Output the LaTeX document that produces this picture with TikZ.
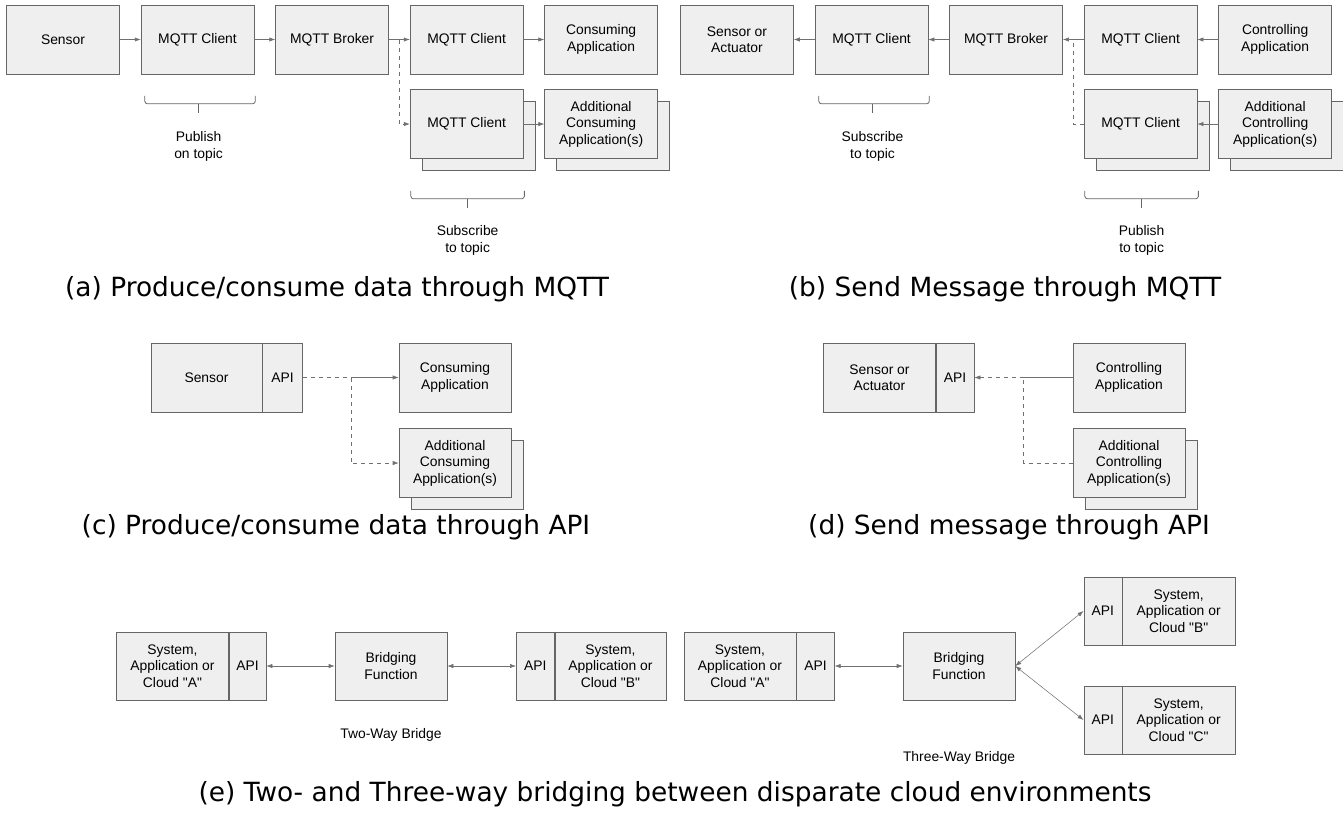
\documentclass[tikz,border=0pt]{standalone}
\usepackage{fontspec}
\newfontfamily\arialfont{Liberation Sans}
\newfontfamily\capfont{DejaVu Sans}
\usepackage{tikz}
\usetikzlibrary{arrows.meta,positioning,shadows,calc}
\definecolor{boxfill}{HTML}{EFEFEF}
\definecolor{boxline}{HTML}{666666}
\definecolor{wiregray}{HTML}{707070}

\begin{document}
\begin{tikzpicture}[x=0.75pt,y=-0.75pt,
    node distance=11.25pt and 15.75pt,
    box/.style={draw=boxline, fill=boxfill, minimum width=84.75pt, minimum height=51.75pt, align=center, inner sep=1pt, font=\arialfont\fontsize{10.4}{12.3}\selectfont},
    ebox/.style={box, minimum height=51pt},
    stack/.style={copy shadow={shadow xshift=9pt, shadow yshift=-9pt}},
    note/.style={align=center, font=\arialfont\fontsize{10.4}{12.3}\selectfont},
    subcap/.style={font=\capfont\fontsize{19.8}{24}\selectfont},
    wire/.style={draw=wiregray, -{Latex[length=4.5pt,width=3.2pt]}},
    dline/.style={draw=wiregray, dashed},
    dwire/.style={wire, dashed},
    bi/.style={draw=wiregray, {Latex[length=4.5pt,width=3.2pt]}-{Latex[length=4.5pt,width=3.2pt]}},
    bracket/.style={draw=boxline, semithick}]
  \useasboundingbox (0,0) rectangle (1343,826);

  % (a)
  \node[box] (sensorA) at (63,39.5) {Sensor};
  \node[box, right=of sensorA] (clientA) {MQTT Client};
  \node[box, right=of clientA] (brokerA) {MQTT Broker};
  \node[box, right=of brokerA] (subA) {MQTT Client};
  \node[box, right=of subA] (consA) {Consuming\\Application};
  \node[box, stack, below=of subA] (subA2) {MQTT Client};
  \node[box, stack, below=of consA] (consA2) {Additional\\Consuming\\Application(s)};
  \draw[wire] (sensorA) -- (clientA);
  \draw[wire] (clientA) -- (brokerA);
  \draw[wire] (brokerA) -- (subA);
  \draw[wire] (subA) -- (consA);
  \draw[wire] (subA2) -- (consA2);
  \coordinate (splitA) at ($(brokerA.east)!0.5!(subA.west)$);
  \draw[dwire] (splitA) |- (subA2);
  \draw[bracket, rounded corners=2pt] ($(clientA.south west)+(4,21.5)$) |- ($(clientA.south east)+(1,29.5)$) -- ++(0,-8);
  \draw[bracket] ($(clientA.south)+(1,29.5)$) -- ++(0,9);
  \node[note] (pubnoteA) at ($(clientA.south)+(1,72)$) {Publish\\on topic};
  \draw[bracket, rounded corners=2pt] ($(subA2.south west)+(1,32)$) |- ($(subA2.south east)+(1,40)$) -- ++(0,-8);
  \draw[bracket] ($(subA2.south)+(1,40)$) -- ++(0,9);
  \node[note] (subnoteA) at ($(subA2.south)+(1,81.5)$) {Subscribe\\to topic};
  \node[subcap] (capA) at (337,289) {(a) Produce/consume data through MQTT};

  % (b)
  \node[box] (actB) at (737,39.5) {Sensor or\\Actuator};
  \node[box, right=of actB] (subB) {MQTT Client};
  \node[box, right=of subB] (brokerB) {MQTT Broker};
  \node[box, right=of brokerB] (pubB) {MQTT Client};
  \node[box, right=of pubB] (ctrlB) {Controlling\\Application};
  \node[box, stack, below=of pubB] (pubB2) {MQTT Client};
  \node[box, stack, below=of ctrlB] (ctrlB2) {Additional\\Controlling\\Application(s)};
  \draw[wire] (ctrlB) -- (pubB);
  \draw[wire] (pubB) -- (brokerB);
  \draw[wire] (brokerB) -- (subB);
  \draw[wire] (subB) -- (actB);
  \draw[wire] (ctrlB2) -- (pubB2);
  \coordinate (splitB) at ($(brokerB.east)!0.5!(pubB.west)$);
  \draw[dline] (pubB2) -| (splitB);
  \draw[bracket, rounded corners=2pt] ($(subB.south west)+(4,21.5)$) |- ($(subB.south east)+(1,29.5)$) -- ++(0,-8);
  \draw[bracket] ($(subB.south)+(1,29.5)$) -- ++(0,9);
  \node[note] (subnoteB) at ($(subB.south)+(1,72)$) {Subscribe\\to topic};
  \draw[bracket, rounded corners=2pt] ($(pubB2.south west)+(1,32)$) |- ($(pubB2.south east)+(1,40)$) -- ++(0,-8);
  \draw[bracket] ($(pubB2.south)+(1,40)$) -- ++(0,9);
  \node[note] (pubnoteB) at ($(pubB2.south)+(1,81.5)$) {Publish\\to topic};
  \node[subcap] (capB) at (1005,289) {(b) Send Message through MQTT};

  % (c)
  \node[box, minimum width=83.25pt] (sensC) at (206.5,377.5) {Sensor};
  \node[box, minimum width=30pt, anchor=west] (apiC) at (sensC.east) {API};
  \node[box, minimum width=84pt] (consC) at (455,377.5) {Consuming\\Application};
  \node[box, stack, minimum width=84pt, below=12pt of consC] (consC2) {Additional\\Consuming\\Application(s)};
  \coordinate (splitC) at ($(apiC.east)!0.5!(consC.west)$);
  \draw[dline] (apiC) -- (splitC);
  \draw[wire] (splitC) -- (consC);
  \draw[dwire] (splitC) |- (consC2);
  \node[subcap] (capC) at (336,527) {(c) Produce/consume data through API};

  % (d)
  \node[box, minimum width=84pt] (actD) at (879.5,377.5) {Sensor or\\Actuator};
  \node[box, minimum width=28.5pt, anchor=west] (apiD) at (actD.east) {API};
  \node[box, minimum width=84pt] (ctrlD) at (1129,377.5) {Controlling\\Application};
  \node[box, stack, minimum width=84pt, below=12pt of ctrlD] (ctrlD2) {Additional\\Controlling\\Application(s)};
  \coordinate (splitD) at ($(apiD.east)!0.5!(ctrlD.west)$);
  \draw[draw=wiregray] (ctrlD) -- (splitD);
  \draw[dwire] (splitD) -- (apiD);
  \draw[dline] (ctrlD2) -| (splitD);
  \node[subcap] (capD) at (1009,527) {(d) Send message through API};

  % (e) two-way
  \node[ebox, minimum width=84pt] (sysA) at (172.5,666) {System,\\Application or\\Cloud "A"};
  \node[ebox, minimum width=27.75pt, anchor=west] (apiA) at (sysA.east) {API};
  \node[ebox, minimum width=84pt] (bridgeA) at (391,666) {Bridging\\Function};
  \node[ebox, minimum width=28.5pt, anchor=west] (apiB) at (516,666) {API};
  \node[ebox, minimum width=83.5pt, anchor=west] (sysB) at (apiB.east) {System,\\Application or\\Cloud "B"};
  \draw[bi] (apiA) -- (bridgeA);
  \draw[bi] (bridgeA) -- (apiB);
  \node[note] (twoway) at (391,735) {Two-Way Bridge};

  % (e) three-way
  \node[ebox, minimum width=84.25pt] (sysA3) at (740,666) {System,\\Application or\\Cloud "A"};
  \node[ebox, minimum width=28.25pt, anchor=west] (apiA3) at (sysA3.east) {API};
  \node[ebox, minimum width=84pt] (bridge3) at (959,666) {Bridging\\Function};
  \node[ebox, minimum width=28.5pt, anchor=west] (apiB3) at (1083.5,611) {API};
  \node[ebox, minimum width=84.5pt, anchor=west] (sysB3) at (apiB3.east) {System,\\Application or\\Cloud "B"};
  \node[ebox, minimum width=28.5pt, anchor=west] (apiC3) at (1083.5,720) {API};
  \node[ebox, minimum width=84.5pt, anchor=west] (sysC3) at (apiC3.east) {System,\\Application or\\Cloud "C"};
  \draw[bi] (apiA3) -- (bridge3);
  \draw[bi] (bridge3.east) -- (apiB3.west);
  \draw[bi] (bridge3.east) -- (apiC3.west);
  \node[note] (threeway) at (959,758) {Three-Way Bridge};

  \node[subcap] (capE) at (675,794) {(e) Two- and Three-way bridging between disparate cloud environments};
\end{tikzpicture}
\end{document}
